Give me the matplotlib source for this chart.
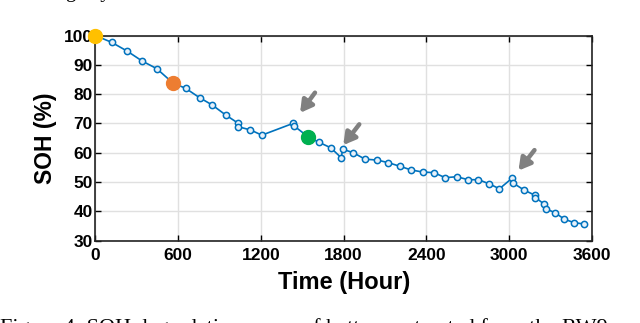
import numpy as np
import matplotlib.pyplot as plt

# SOH curve (hours, %)
hours = [0, 117, 230, 339, 445, 562, 654, 755, 847, 944, 1031, 1033, 1123, 1207,
         1432, 1442, 1543, 1619, 1706, 1782, 1793, 1870, 1955, 2044, 2124, 2206,
         2291, 2375, 2455, 2535, 2620, 2702, 2777, 2854, 2929, 3023, 3030, 3110,
         3186, 3190, 3255, 3265, 3333, 3400, 3473, 3541]
soh = [100, 97.7, 94.7, 91.3, 88.7, 83.8, 82.0, 78.8, 76.3, 72.9, 70.2, 68.9, 67.8, 66.0,
       70.0, 69.1, 65.4, 63.6, 61.7, 58.3, 61.2, 60.0, 57.8, 57.5, 56.6, 55.4,
       54.1, 53.4, 53.2, 51.5, 51.8, 50.8, 50.8, 49.4, 47.7, 51.4, 49.6, 47.2,
       45.5, 44.7, 42.4, 40.9, 39.5, 37.3, 36.1, 35.7]

# highlighted points
hl_hours = [0, 562, 1543]
hl_soh = [100, 83.8, 65.4]
hl_colors = ['#FFC000', '#ED7D31', '#00B050']

# regeneration arrows: (tail, head)
arrows = [((1592, 80.5), (1484, 73.6)),
          ((1913, 69.7), (1797, 62.6)),
          ((3183, 60.9), (3067, 53.9))]

xticks = [0, 600, 1200, 1800, 2400, 3000, 3600]
yticks = [30, 40, 50, 60, 70, 80, 90, 100]

plt.rcParams['font.family'] = ['Liberation Sans', 'DejaVu Sans']

fig = plt.figure(figsize=(6.4, 3.23), dpi=100)
ax = fig.add_axes([0.149, 0.255, 0.776, 0.635])

ax.plot(hours, soh, '-o', color='#0072BD', linewidth=1.2, markersize=4.5,
        markerfacecolor='#e8f1fa', markeredgewidth=1.1, zorder=3)
for x, y, c in zip(hl_hours, hl_soh, hl_colors):
    ax.plot(x, y, 'o', color=c, markersize=10, zorder=5, clip_on=False)

for tail, head in arrows:
    ax.annotate('', xy=head, xytext=tail,
                arrowprops=dict(arrowstyle='-|>,head_length=0.7,head_width=0.4',
                                color='#808080', lw=3.2, shrinkA=0, shrinkB=0),
                zorder=4)

ax.set_xlim(0, 3600)
ax.set_ylim(30, 100)
ax.set_xticks(xticks)
ax.set_yticks(yticks)
ax.grid(True, color='#e0e0e0', linewidth=1)
ax.set_axisbelow(True)
ax.tick_params(direction='in', top=True, right=True, length=4, width=1,
               labelsize=12.5)
ax.tick_params(axis='x', pad=5)
ax.tick_params(axis='y', pad=2)
for lab in ax.get_xticklabels() + ax.get_yticklabels():
    lab.set_fontweight('semibold')
for s in ax.spines.values():
    s.set_linewidth(1.2)
    s.set_color('#222222')

ax.set_xlabel('Time (Hour)', fontsize=17, fontweight='bold', labelpad=6)
ax.set_ylabel('SOH (%)', fontsize=16.5, fontweight='bold', labelpad=5)

# caption fragments cut off at the edges of the picture
fig.text(50 / 640, 1.0 + 3 / 323, 'arge cycle.', family='Liberation Serif',
         fontsize=15, va='baseline', ha='left')
fig.text(0.0, -0.03, 'Figure 4: SOH degradation curve of battery extracted from the RW9',
         family='Liberation Serif', fontsize=16, va='baseline', ha='left')

fig.savefig('out.png', dpi=100)
